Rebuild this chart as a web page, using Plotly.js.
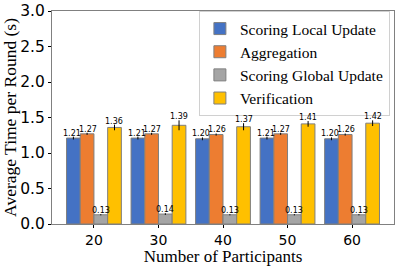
<!DOCTYPE html>
<html>
<head>
<meta charset="utf-8">
<script src="https://cdn.plot.ly/plotly-3.0.1.min.js"></script>
<style>html,body{margin:0;padding:0;background:#fff;}#chart{width:399px;height:266px;}</style>
</head>
<body>
<div id="chart"></div>
<script>
const participants = ['20', '30', '40', '50', '60'];
const seriesNames = ['Scoring Local Update', 'Aggregation', 'Scoring Global Update', 'Verification'];
const scoringLocal = [1.21, 1.21, 1.20, 1.21, 1.20];
const aggregation = [1.27, 1.27, 1.26, 1.27, 1.26];
const scoringGlobal = [0.13, 0.14, 0.13, 0.13, 0.13];
const verification = [1.36, 1.39, 1.37, 1.41, 1.42];
const errLocal = [0.02, 0.02, 0.02, 0.02, 0.02];
const errAgg = [0.015, 0.015, 0.015, 0.015, 0.015];
const errGlobal = [0.008, 0.012, 0.008, 0.008, 0.008];
const errVerif = [0.04, 0.07, 0.05, 0.04, 0.04];

const colors = ['#4472C4', '#ED7D31', '#A5A5A5', '#FFC000'];
const values = [scoringLocal, aggregation, scoringGlobal, verification];
const errs = [errLocal, errAgg, errGlobal, errVerif];

const traces = values.map((v, i) => ({
  type: 'bar',
  name: seriesNames[i],
  x: participants,
  y: v,
  legendgroup: 'g' + i,
  marker: {color: colors[i], line: {color: '#7f7f7f', width: 1}},
  error_y: {type: 'data', array: errs[i], visible: true, color: '#000', thickness: 1, width: 0}
}));

const barPx = 13.7;
const shifts = [-1.6, -0.45, 0.5, 1.5].map(k => k * barPx);
const annotations = [];
values.forEach((v, i) => {
  v.forEach((val, j) => {
    annotations.push({
      x: j, y: val + errs[i][j], xref: 'x', yref: 'y',
      text: val.toFixed(2), showarrow: false, yanchor: 'bottom', xanchor: 'center',
      xshift: shifts[i], yshift: -3,
      font: {family: 'DejaVu Sans', size: 8, color: '#000'}
    });
  });
});

const layout = {
  width: 399, height: 266,
  margin: {l: 52, r: 5, t: 11, b: 42},
  paper_bgcolor: '#fff', plot_bgcolor: '#fff',
  barmode: 'group', bargap: 0.15, bargroupgap: 0,
  showlegend: true,
  legend: {
    x: 0.988, y: 1.0, xanchor: 'right', yanchor: 'top',
    bgcolor: '#fff', bordercolor: '#d0d0d0', borderwidth: 1,
    font: {family: 'Liberation Serif', size: 15.5, color: '#000'},
    traceorder: 'grouped', tracegroupgap: 0
  },
  xaxis: {
    type: 'category', range: [-0.65, 4.65],
    showline: true, mirror: true, linecolor: '#808080', linewidth: 1,
    ticks: 'outside', ticklen: 3, tickcolor: '#000',
    tickfont: {family: 'DejaVu Sans', size: 14, color: '#000'},
    title: {text: 'Number of Participants', font: {family: 'Liberation Serif', size: 17, color: '#000'}, standoff: 4},
    showgrid: false, zeroline: false
  },
  yaxis: {
    range: [0, 3.0], dtick: 0.5, tickformat: '.1f',
    showline: true, mirror: true, linecolor: '#808080', linewidth: 1,
    ticks: 'outside', ticklen: 3, tickcolor: '#000',
    tickfont: {family: 'DejaVu Sans', size: 15.5, color: '#000'},
    title: {text: 'Average Time per Round (s)', font: {family: 'Liberation Serif', size: 17.5, color: '#000'}, standoff: 4},
    showgrid: false, zeroline: false
  },
  annotations: annotations
};

Plotly.newPlot('chart', traces, layout, {displayModeBar: false, staticPlot: true});
</script>
</body>
</html>
